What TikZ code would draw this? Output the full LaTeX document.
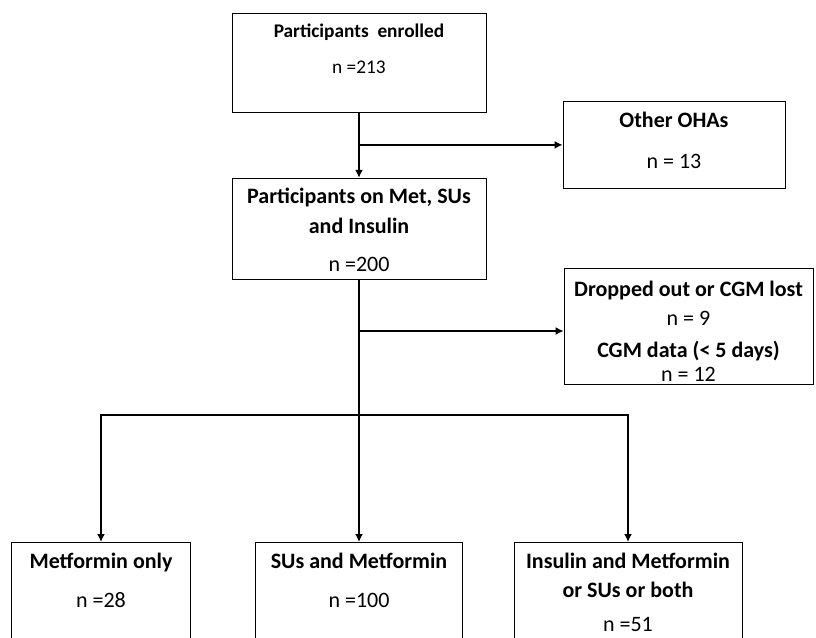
\documentclass[tikz,border=0pt]{standalone}
\usepackage{fontspec}
\setmainfont{Carlito}
\usepackage{tikz}
\usetikzlibrary{arrows.meta,positioning}
\newcommand{\boxtext}[1]{\begin{tabular}[t]{@{}c@{}}#1\end{tabular}}
\tikzstyle{block} = [draw, rectangle, anchor=north, inner sep=0pt, line width=0.6pt, font=\fontsize{16.5}{20}\selectfont]
\tikzstyle{flow} = [line width=2pt]

\begin{document}
\begin{tikzpicture}[x=0.75pt, y=-0.75pt, >={Latex[length=6pt,width=6pt]}]
  \clip (0,0) rectangle (816,637);
  % boxes
  \node [block, minimum width=190.5pt, text height=18pt, text depth=56.25pt, font=\fontsize{14.5}{18}\selectfont] (enrolled) at (359,13)
        {\boxtext{\textbf{Participants\ \ enrolled}\\[9pt] n =213}};
  \node [block, minimum width=190.5pt, text height=18.75pt, text depth=57pt, below=48.75pt of enrolled] (onmeds)
        {\boxtext{\textbf{Participants on Met, SUs}\\[2.5pt] \textbf{and Insulin}\\[8.5pt] n =200}};
  \node [block, minimum width=166.5pt, text height=19.5pt, text depth=45.75pt] (otheroha) at (674,101)
        {\boxtext{\textbf{Other OHAs}\\[10.75pt] n = 13}};
  \node [block, minimum width=186.75pt, text height=21pt, text depth=66pt, font=\fontsize{16.5}{17}\selectfont] (dropped) at (688.5,268)
        {\boxtext{\textbf{Dropped out or CGM lost}\\[4.75pt] n = 9\\[7pt] \textbf{CGM data (< 5 days)}\\[1pt] n = 12}};
  \node [block, minimum width=134.25pt, text height=19.5pt, text depth=120pt] (metonly) at (101,542)
        {\boxtext{\textbf{Metformin only}\\[9.25pt] n =28}};
  \node [block, minimum width=155.25pt, text height=19.5pt, text depth=120pt] (sumet) at (359,542)
        {\boxtext{\textbf{SUs and Metformin}\\[9.25pt] n =100}};
  \node [block, minimum width=171pt, text height=19.5pt, text depth=120pt] (insmet) at (628,542)
        {\boxtext{\textbf{Insulin and Metformin}\\[2pt] \textbf{or SUs or both}\\[5.5pt] n =51}};

  \coordinate (split) at (359,331);
  \coordinate (bus) at (359,415);

  % connectors
  \draw [->, flow] (enrolled) -- (onmeds);
  \draw [->, flow] (enrolled.south |- otheroha.west) -- (otheroha.west);
  \draw [flow] (onmeds) -- (bus);
  \draw [->, flow] (split) -- (split -| dropped.west);
  \draw [->, flow] (bus) -| (metonly);
  \draw [->, flow] (bus) -- (sumet);
  \draw [->, flow] (bus) -| (insmet);
\end{tikzpicture}
\end{document}
